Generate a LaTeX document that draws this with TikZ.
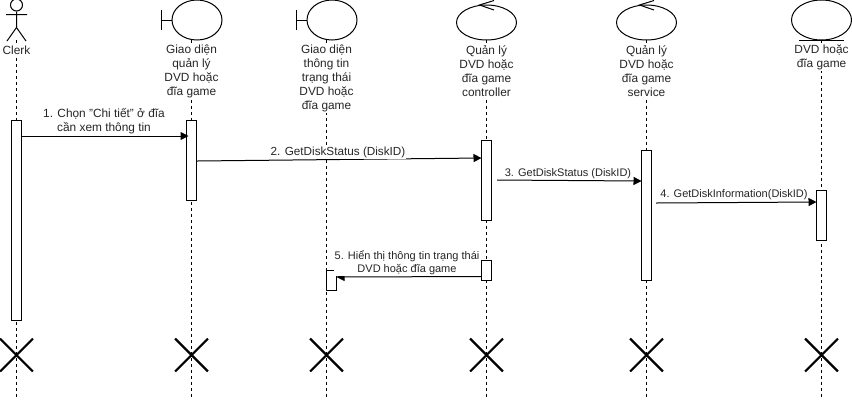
\documentclass[tikz,border=0pt]{standalone}
\usepackage{fontspec}
\setmainfont{Liberation Sans}
\usetikzlibrary{arrows.meta,shapes.geometric,shapes.misc}
\tikzset{
  lifeline/.style={draw=black,line width=0.75pt,dash pattern=on 2.25pt off 2.25pt},
  symb/.style={draw=black,line width=0.75pt},
  head/.style={symb,ellipse,inner sep=0pt,fill=white},
  lbl/.style={align=center,inner sep=0.5pt,fill=white,font=\fontsize{8.9}{10.5}\selectfont,text=black!85},
  smalllbl/.style={lbl,font=\fontsize{8.25}{10}\selectfont},
  actbox/.style={draw=black,line width=0.75pt,fill=white,minimum width=7.5pt,inner sep=0pt},
  msg/.style={draw=black,line width=0.75pt,-{Triangle[length=6pt,width=6pt]}},
  xmark/.style={draw=black,cross out,line width=1.6pt,minimum size=23pt,inner sep=0pt}
}
\begin{document}
\begin{tikzpicture}[x=0.75pt,y=-0.75pt]
\useasboundingbox (0,0) rectangle (852,401);
% end coordinates of the lifelines
\foreach \n/\x in {A/16.5,B/191.5,C/326.5,D/486.5,E/646.5,F/821.5}{
  \coordinate (top\n) at (\x,40);
  \coordinate (bot\n) at (\x,398);
}
\foreach \n in {A,B,C,D,E,F}{\draw[lifeline] (top\n) -- (bot\n);}
% actor
\node[symb,circle,minimum size=12pt*0.75,inner sep=0pt,fill=white] (actorhead) at (16.5,5) {};
\coordinate (hip) at (16.5,27.5);
\coordinate (armL) at (6,14.5);
\coordinate (armR) at (27,14.5);
\coordinate (legL) at (7,41);
\coordinate (legR) at (26,41);
\draw[symb] (actorhead.south) -- (hip) (armL) -- (armR) (legL) -- (hip) -- (legR);
% boundary
\node[head,minimum width=37.5pt,minimum height=30pt] (bnd1) at (197,20) {};
\coordinate (bnd1a) at (161.5,10);
\coordinate (bnd1b) at (161.5,30);
\coordinate (bnd1c) at (161.5,20);
\draw[symb] (bnd1a) -- (bnd1b) (bnd1c) -- (bnd1.west);
\node[head,minimum width=37.5pt,minimum height=30pt] (bnd2) at (332,20) {};
\coordinate (bnd2a) at (296.5,10);
\coordinate (bnd2b) at (296.5,30);
\coordinate (bnd2c) at (296.5,20);
\draw[symb] (bnd2a) -- (bnd2b) (bnd2c) -- (bnd2.west);
% controls
\node[head,minimum width=45pt,minimum height=26.25pt] (ctl1) at (486.5,22.5) {};
\coordinate (ctl1p) at (479.5,5);
\coordinate (ctl1a) at (494,0.5);
\coordinate (ctl1b) at (494,10);
\draw[symb] (ctl1a) -- (ctl1p) -- (ctl1b);
\node[head,minimum width=45pt,minimum height=26.25pt] (ctl2) at (646.5,22.5) {};
\coordinate (ctl2p) at (639.5,5);
\coordinate (ctl2a) at (654,0.5);
\coordinate (ctl2b) at (654,10);
\draw[symb] (ctl2a) -- (ctl2p) -- (ctl2b);
% entity
\node[head,minimum width=45pt,minimum height=30pt] (ent) at (821.5,20) {};
\coordinate (entL) at (799,40);
\coordinate (entR) at (844,40);
\draw[symb] (entL) -- (entR);
% labels
\node[lbl] (tA) at (16.5,50.5) {Clerk};
\node[lbl] (tB) at (191.5,71.5) {Giao diện\\quản lý\\DVD hoặc\\đĩa game};
\node[lbl] (tC) at (326.5,78.5) {Giao diện\\thông tin\\trạng thái\\DVD hoặc\\đĩa game};
\node[lbl] (tD) at (486.5,71.5) {Quản lý\\DVD hoặc\\đĩa game\\controller};
\node[lbl] (tE) at (646.5,71.5) {Quản lý\\DVD hoặc\\đĩa game\\service};
\node[lbl] (tF) at (821.5,57.5) {DVD hoặc\\đĩa game};
% activations
\node[actbox,minimum height=150pt] (a1) at (16.5,220) {};
\node[actbox,minimum height=60pt] (a2) at (191.5,160) {};
\node[actbox,minimum height=60pt] (a3) at (486.5,180) {};
\node[actbox,minimum height=97.5pt] (a4) at (646.5,215) {};
\node[actbox,minimum height=37.5pt] (a5) at (821.5,215) {};
\node[actbox,minimum height=15pt] (a6) at (486.5,270) {};
\node[actbox,minimum height=15pt] (a7) at (331.5,280) {};
% messages
\coordinate (m1s) at (21.5,136);
\coordinate (m1e) at (188.5,136);
\coordinate (m2s) at (197,161);
\coordinate (m2e) at (481.5,158);
\coordinate (m3s) at (497,180);
\coordinate (m3e) at (641.5,181);
\coordinate (m4s) at (656,203);
\coordinate (m4e) at (816.5,202);
\coordinate (m5s) at (481.5,276.5);
\coordinate (m5e) at (336.5,277);
\draw[msg] (m1s) -- (m1e);
\draw[msg] (m2s) -- (m2e);
\draw[msg] (m3s) -- (m3e);
\draw[msg] (m4s) -- (m4e);
\draw[msg] (m5s) -- (m5e);
\node[lbl] (l1) at (104,121.5) {1. Chọn "Chi tiết" ở đĩa\\cần xem thông tin};
\node[lbl,font=\fontsize{8.8}{10.5}\selectfont] (l2) at (338,152.5) {2. GetDiskStatus (DiskID)};
\node[smalllbl] (l3) at (568,173.5) {3. GetDiskStatus (DiskID)};
\node[smalllbl] (l4) at (734,195) {4. GetDiskInformation(DiskID)};
\node[smalllbl] (l5) at (407,263) {5. Hiển thị thông tin trạng thái\\DVD hoặc đĩa game};
% destruction marks
\foreach \n/\x in {A/16.5,B/191.5,C/326.5,D/486.5,E/646.5,F/821.5}{
  \node[xmark] (x\n) at (\x,355) {};
}
\end{tikzpicture}
\end{document}
